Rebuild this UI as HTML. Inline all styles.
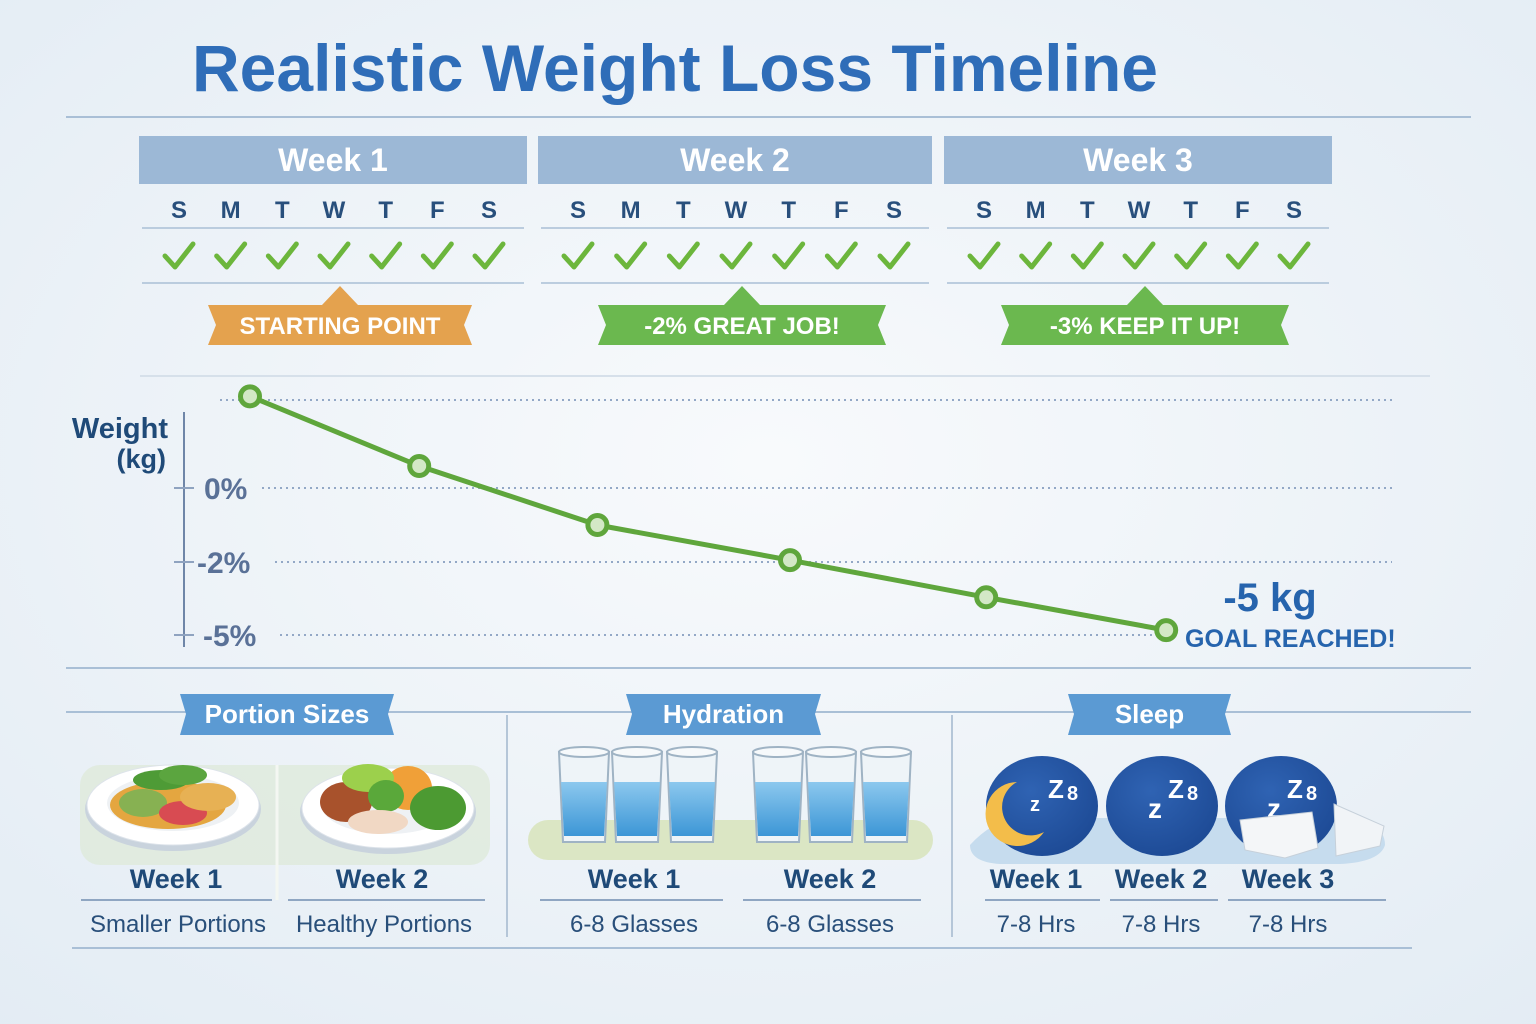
<!DOCTYPE html>
<html><head><meta charset="utf-8">
<style>
html,body{margin:0;padding:0;width:1536px;height:1024px;overflow:hidden;background:#eef3f8;}
svg{display:block;font-family:"Liberation Sans","DejaVu Sans",sans-serif;}
</style></head>
<body>
<svg id="root" width="1536" height="1024" viewBox="0 0 1536 1024">
<defs>
<radialGradient id="bg" cx="50%" cy="45%" r="75%"><stop offset="0" stop-color="#f8fafc"/><stop offset="1" stop-color="#e3ecf4"/></radialGradient>
<linearGradient id="water" x1="0" y1="0" x2="0" y2="1"><stop offset="0" stop-color="#8cc8ee"/><stop offset="1" stop-color="#3c96d6"/></linearGradient>
<radialGradient id="moonbg" cx="40%" cy="35%" r="70%"><stop offset="0" stop-color="#2f63b3"/><stop offset="1" stop-color="#1d4a95"/></radialGradient>
</defs>
<rect width="1536" height="1024" fill="url(#bg)"/>
<text x="192" y="91" font-size="66" font-weight="bold" fill="#2f6db8" textLength="966" lengthAdjust="spacingAndGlyphs">Realistic Weight Loss Timeline</text>
<line x1="66" y1="117" x2="1471" y2="117" stroke="#a9bfd6" stroke-width="2"/>
<g id="weeks"></g>
<line x1="140" y1="376" x2="1430" y2="376" stroke="#d6e0ea" stroke-width="2"/>
<g id="chart"></g>
<line x1="66" y1="668" x2="1471" y2="668" stroke="#a9bfd6" stroke-width="2"/>
<g id="habits"></g>
</svg>
<script>
const NS='http://www.w3.org/2000/svg';
function mk(parent,tag,attrs,text){const e=document.createElementNS(NS,tag);for(const k in attrs)e.setAttribute(k,attrs[k]);if(text!==undefined)e.textContent=text;parent.appendChild(e);return e;}

// ---------- Week calendar ----------
const weekLabels=['Week 1','Week 2','Week 3'];
const dayLabels=['S','M','T','W','T','F','S'];
const badgeLabels=['STARTING POINT','-2% GREAT JOB!','-3% KEEP IT UP!'];
const weekBoxes=[[139,527],[538,932],[944,1332]];
const badgeColors=['#e4a24e','#6bb84f','#6bb84f'];
const wk=document.getElementById('weeks');
weekLabels.forEach((w,i)=>{
  const [x0,x1]=weekBoxes[i];const cx=(x0+x1)/2;
  const g=mk(wk,'g',{});
  
  
  const h=mk(g,'rect',{x:x0,y:136,width:x1-x0,height:48,fill:'#9cb8d6'});
  
  
  const t=mk(g,'text',{x:cx,y:171,'font-size':32,'font-weight':'bold',fill:'#fff','text-anchor':'middle'},w);
  
  
  const step=(x1-x0-78)/6;
  dayLabels.forEach((d,j)=>{
    const dx=x0+40+j*step;
    const dt=mk(g,'text',{x:dx,y:218,'font-size':24,'font-weight':'bold',fill:'#284f7c','text-anchor':'middle'},d);
    
    
    const ck=mk(g,'path',{d:`M${dx-14} ${256} L${dx-4} ${267} L${dx+14} ${244}`,fill:'none',stroke:'#6cb63c','stroke-width':5,'stroke-linecap':'round','stroke-linejoin':'round'});
    
    
  });
  mk(g,'line',{x1:x0+3,y1:228,x2:x1-3,y2:228,stroke:'#a9bfd6','stroke-width':1.5});
  mk(g,'line',{x1:x0+3,y1:283,x2:x1-3,y2:283,stroke:'#a9bfd6','stroke-width':1.5});
  const bx=cx+(i===0?7:7), bw=i===0?264:288, c=badgeColors[i];
  const b=mk(g,'path',{d:`M${bx-bw/2} 305 L${bx-18} 305 L${bx} 286 L${bx+18} 305 L${bx+bw/2} 305 L${bx+bw/2-8} 325 L${bx+bw/2} 345 L${bx-bw/2} 345 L${bx-bw/2+8} 325 Z`,fill:c});
  
  
  const bt=mk(g,'text',{x:bx,y:334,'font-size':24,'font-weight':'bold',fill:'#fff','text-anchor':'middle'},badgeLabels[i]);
  
  
});

// ---------- Chart ----------
const pointLabels=['Start','Week 1a','Week 1b','Week 2','Week 3a','Goal'];
const timeValues=[0,0.94,1.93,3.0,4.09,5.09];
const weightChange=[2.5,0.6,-1.0,-1.95,-3.45,-4.8];
const tickValues=[0,-2,-5];
const tickLabels=['0%','-2%','-5%'];
const topGridValue=2.4;
// piecewise axis scale (axis in reference is non-uniform)
const yDomain=[-5,-2,0,2.4], yRange=[635,562,488,400];
function yScale(v){
  for(let i=0;i<yDomain.length-1;i++){
    if(v<=yDomain[i+1]||i===yDomain.length-2){
      const t=(v-yDomain[i])/(yDomain[i+1]-yDomain[i]);
      return yRange[i]+t*(yRange[i+1]-yRange[i]);
    }
  }
}
function xScale(t){return 250+t*180;}
const ch=document.getElementById('chart');
const ax=mk(ch,'line',{x1:184,y1:412,x2:184,y2:647,stroke:'#6f86a8','stroke-width':2});


const yt1=mk(ch,'text',{x:168,y:438,'font-size':29,'font-weight':'bold',fill:'#1f4a78','text-anchor':'end'},'Weight');


const yt2=mk(ch,'text',{x:166,y:468,'font-size':27,'font-weight':'bold',fill:'#1f4a78','text-anchor':'end'},'(kg)');


const tg=mk(ch,'line',{x1:220,y1:yScale(topGridValue),x2:1392,y2:yScale(topGridValue),stroke:'#93a8c6','stroke-width':2,'stroke-dasharray':'2 4'});


tickValues.forEach((v,i)=>{
  const y=yScale(v);
  const gl=mk(ch,'line',{x1:[262,275,280][i],y1:y,x2:i===2?1160:1392,y2:y,stroke:'#93a8c6','stroke-width':2,'stroke-dasharray':'2 4'});
  
  
  const tk=mk(ch,'line',{x1:174,y1:y,x2:194,y2:y,stroke:'#8fa3c0','stroke-width':2});
  
  
  const tl=mk(ch,'text',{x:[204,197,203][i],y:y+11,'font-size':30,'font-weight':'bold',fill:'#5a7197'},tickLabels[i]);
  
  
});
const pts=weightChange.map((v,i)=>[xScale(timeValues[i]),yScale(v)]);
const line=mk(ch,'polyline',{points:pts.map(p=>p.join(',')).join(' '),fill:'none',stroke:'#5fa63c','stroke-width':5,'stroke-linejoin':'round'});


pts.forEach((p,i)=>{
  const c=mk(ch,'circle',{cx:p[0],cy:p[1],r:9.5,fill:'#d3e8c6',stroke:'#5fa63c','stroke-width':5});
  
  
});
const g1=mk(ch,'text',{x:1270,y:611,'font-size':40,'font-weight':'bold',fill:'#2664ad','text-anchor':'middle'},'-5 kg');


const g2=mk(ch,'text',{x:1185,y:647,'font-size':25,'font-weight':'bold',fill:'#2664ad'},'GOAL REACHED!');



// ---------- Habits ----------
const hb=document.getElementById('habits');
mk(hb,'line',{x1:66,y1:712,x2:1471,y2:712,stroke:'#a9bfd6','stroke-width':2});
mk(hb,'line',{x1:507,y1:715,x2:507,y2:937,stroke:'#b5c6d8','stroke-width':2});
mk(hb,'line',{x1:952,y1:715,x2:952,y2:937,stroke:'#b5c6d8','stroke-width':2});
mk(hb,'line',{x1:72,y1:948,x2:1412,y2:948,stroke:'#a9bfd6','stroke-width':2});
const sections=['Portion Sizes','Hydration','Sleep'];
const secX=[[180,394],[626,821],[1068,1231]];
sections.forEach((s,i)=>{
  const [a,b]=secX[i];
  const r=mk(hb,'path',{d:`M${a} 694 L${b} 694 L${b-6} 714 L${b} 735 L${a} 735 L${a+6} 714 Z`,fill:'#5b9ad3'});
  
  
  const t=mk(hb,'text',{x:(a+b)/2,y:723,'font-size':26,'font-weight':'bold',fill:'#fff','text-anchor':'middle'},s);
  
  
});
mk(hb,'rect',{x:80,y:765,width:410,height:100,rx:20,fill:'#dfeadb',opacity:0.8});
mk(hb,'line',{x1:277,y1:765,x2:277,y2:900,stroke:'#f4f7f2','stroke-width':3});
mk(hb,'rect',{x:528,y:820,width:405,height:40,rx:20,fill:'#dbe6c4'});
mk(hb,'path',{d:'M970 845 Q1000 812 1040 818 L1340 818 Q1385 820 1385 845 Q1380 862 1340 864 L1000 864 Q970 862 970 845Z',fill:'#c6dcee'});
function plate(cx,cy,foods){
  const g=mk(hb,'g',{});
  
  
  mk(g,'ellipse',{cx:cx,cy:cy+4,rx:88,ry:42,fill:'#c9d3dd'});
  mk(g,'ellipse',{cx:cx,cy:cy,rx:86,ry:40,fill:'#fff',stroke:'#dde3ea'});
  mk(g,'ellipse',{cx:cx,cy:cy-2,rx:66,ry:28,fill:'#eef1f4'});
  foods.forEach(f=>mk(g,'ellipse',{cx:cx+f[0],cy:cy+f[1],rx:f[2],ry:f[3],fill:f[4]}));
}
plate(173,805,[[-5,0,58,24,'#e4a640'],[-30,-2,24,14,'#87b152'],[10,8,24,12,'#d84b52'],[35,-8,28,14,'#e7b154'],[-12,-25,28,10,'#4e9b36'],[10,-30,24,10,'#5ba53f']]);
plate(388,808,[[-42,-6,26,20,'#a8522c'],[20,-20,24,22,'#f0a038'],[-20,-30,26,14,'#9cd04c'],[50,0,28,22,'#4c9a32'],[-2,-12,18,16,'#5aa83a'],[-10,14,30,12,'#f1d8c4']]);
const glassX=[584,637,692,778,831,886];
glassX.forEach(x=>{
  const g=mk(hb,'g',{});
  
  
  mk(g,'path',{d:`M${x-25} 752 L${x+25} 752 L${x+21} 842 L${x-21} 842 Z`,fill:'#eef4f8',stroke:'#9fb3c4','stroke-width':2});
  mk(g,'path',{d:`M${x-23} 782 L${x+23} 782 L${x+20} 836 L${x-20} 836 Z`,fill:'url(#water)'});
  mk(g,'ellipse',{cx:x,cy:752,rx:25,ry:5,fill:'#f6f9fb',stroke:'#9fb3c4','stroke-width':2});
});
const sleepX=[1042,1162,1281];
sleepX.forEach((x,i)=>{
  const g=mk(hb,'g',{});
  
  
  mk(g,'ellipse',{cx:x,cy:806,rx:56,ry:50,fill:'url(#moonbg)'});
  if(i===0) mk(g,'path',{d:`M${x-25} 782 A32 32 0 1 0 ${x+2} 832 A27 27 0 0 1 ${x-25} 782 Z`,fill:'#f3bd4a'});
  mk(g,'text',{x:x-10+(i===0?-2:-4),y:i===0?811:818,'font-size':i===0?20:28,'font-weight':'bold',fill:'#fff'},'z');
  mk(g,'text',{x:x+6,y:798,'font-size':26,'font-weight':'bold',fill:'#fff'},'Z');
  mk(g,'text',{x:x+25,y:800,'font-size':20,'font-weight':'bold',fill:'#fff'},'8');
  if(i===2){
    mk(g,'path',{d:'M1240 820 L1312 812 L1318 848 L1285 858 L1245 850 Z',fill:'#f4f6f8',stroke:'#c6d0da'});
    mk(g,'path',{d:'M1334 804 L1384 826 L1380 846 L1336 856 Z',fill:'#f1f4f7',stroke:'#c6d0da'});
  }
});
const captionWeeks=['Week 1','Week 2','Week 1','Week 2','Week 1','Week 2','Week 3'];
const captionSubs=['Smaller Portions','Healthy Portions','6-8 Glasses','6-8 Glasses','7-8 Hrs','7-8 Hrs','7-8 Hrs'];
const capX=[176,382,634,830,1036,1161,1288];
const capLine=[[81,272],[288,485],[540,723],[743,921],[985,1100],[1110,1218],[1228,1386]];
captionWeeks.forEach((w,i)=>{
  const t=mk(hb,'text',{x:capX[i],y:888,'font-size':27,'font-weight':'bold',fill:'#1f4a78','text-anchor':'middle'},w);
  
  
  mk(hb,'line',{x1:capLine[i][0],y1:900,x2:capLine[i][1],y2:900,stroke:'#8fa6c2','stroke-width':2});
  const s=mk(hb,'text',{x:capX[i]+(i<2?2:0),y:932,'font-size':24,fill:'#294f7a','text-anchor':'middle'},captionSubs[i]);
  
  
});
</script>
</body></html>
